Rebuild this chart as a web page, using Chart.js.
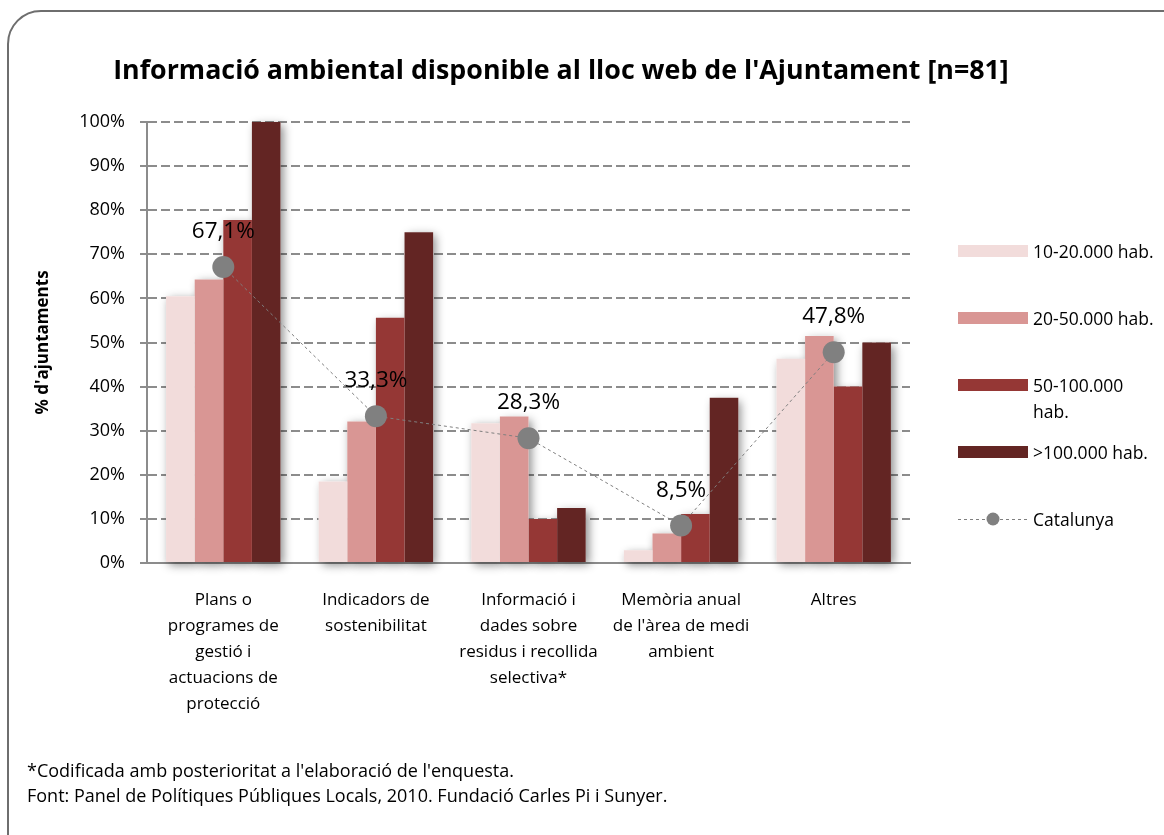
<!DOCTYPE html>
<html>
<head>
<meta charset="utf-8">
<script src="https://cdn.jsdelivr.net/npm/chart.js@4.4.0/dist/chart.umd.min.js"></script>
<style>
  html, body { margin:0; padding:0; background:#fff; width:1164px; height:835px; overflow:hidden; font-family: "Open Sans", Lato, sans-serif; }
  #frame { position:absolute; left:7px; top:10px; width:1250px; height:900px; border:2px solid #6e6e6e; border-radius:34px; box-sizing:border-box; }
  #c { position:absolute; left:0; top:0; }
  #title { position:absolute; left:0; width:1122px; top:50px; text-align:center; font-weight:bold; font-size:26.8px; color:#000; white-space:nowrap; }
  #legend { position:absolute; left:958px; top:0; }
  .li { position:absolute; left:0; display:flex; align-items:flex-start; }
  .sw { width:70px; height:12px; margin-top:7px; flex:none; }
  .lt { margin-left:5px; font-size:17.5px; line-height:26px; color:#000; width:127px; }
  #footer { position:absolute; left:27px; top:758px; font-size:18px; line-height:25px; color:#000; white-space:nowrap; }
</style>
</head>
<body>
<div id="frame"></div>
<canvas id="c" width="1164" height="835"></canvas>
<div id="title">Informació ambiental disponible al lloc web de l'Ajuntament [n=81]</div>
<div id="legend"></div>
<div id="footer">*Codificada amb posterioritat a l'elaboració de l'enquesta.<br>Font: Panel de Polítiques Públiques Locals, 2010. Fundació Carles Pi i Sunyer.</div>
<script>
// ---- data ----
const categories = [
  ["Plans o", "programes de", "gestió i", "actuacions de", "protecció"],
  ["Indicadors de", "sostenibilitat"],
  ["Informació i", "dades sobre", "residus i recollida", "selectiva*"],
  ["Memòria anual", "de l'àrea de medi", "ambient"],
  ["Altres"]
];
const seriesNames = ["10-20.000 hab.", "20-50.000 hab.", "50-100.000 hab.", ">100.000 hab.", "Catalunya"];
const s10_20  = [60.5, 18.5, 31.7, 2.9, 46.3];
const s20_50  = [64.3, 32.1, 33.2, 6.7, 51.5];
const s50_100 = [77.8, 55.6, 10.0, 11.1, 40.0];
const s100    = [100.0, 75.0, 12.5, 37.5, 50.0];
const catalunya = [67.1, 33.3, 28.3, 8.5, 47.8];
const yTicks = [0, 10, 20, 30, 40, 50, 60, 70, 80, 90, 100];

const colors = ["#F2DCDB", "#D99694", "#953735", "#632523"];
const lineColor = "#7f7f7f";
const FONT = "'Open Sans', Lato, sans-serif";

const shadowPlugin = {
  id: 'barShadow',
  beforeDatasetsDraw(chart) {
    const ctx = chart.ctx;
    ctx.save();
    ctx.shadowColor = 'rgba(0,0,0,0.45)';
    ctx.shadowBlur = 9;
    ctx.shadowOffsetX = 3;
    ctx.shadowOffsetY = 3;
    ctx.fillStyle = '#ffffff';
    chart.data.datasets.forEach((ds, i) => {
      if (ds.type === 'line') return;
      const meta = chart.getDatasetMeta(i);
      meta.data.forEach(el => {
        const w = el.width;
        ctx.fillRect(el.x - w / 2, el.y, w, el.base - el.y);
      });
    });
    ctx.restore();
  }
};

const labelPlugin = {
  id: 'pointLabels',
  afterDatasetsDraw(chart) {
    const ctx = chart.ctx;
    chart.data.datasets.forEach((ds, i) => {
      if (ds.type !== 'line') return;
      const meta = chart.getDatasetMeta(i);
      ctx.save();
      ctx.font = "22.5px " + FONT;
      ctx.fillStyle = '#000';
      ctx.textAlign = 'center';
      ctx.textBaseline = 'alphabetic';
      meta.data.forEach((el, j) => {
        const txt = ds.data[j].toFixed(1).replace('.', ',') + '%';
        ctx.fillText(txt, el.x, el.y - 29);
      });
      ctx.restore();
    });
  }
};

const barSeries = [s10_20, s20_50, s50_100, s100];
const datasets = barSeries.map((d, i) => ({
  type: 'bar',
  label: seriesNames[i],
  data: d,
  backgroundColor: colors[i],
  borderWidth: 0,
  categoryPercentage: 0.75,
  barPercentage: 1.0,
  order: 2
}));
datasets.push({
  type: 'line',
  label: seriesNames[4],
  data: catalunya,
  borderColor: lineColor,
  borderWidth: 1,
  borderDash: [3, 3],
  pointRadius: 11,
  pointHoverRadius: 11,
  pointBackgroundColor: '#808080',
  pointBorderWidth: 0,
  tension: 0,
  fill: false,
  order: 1
});

const chart = new Chart(document.getElementById('c'), {
  data: { labels: categories, datasets },
  options: {
    responsive: false,
    animation: false,
    devicePixelRatio: 1,
    layout: { padding: { left: 29, right: 254, top: 122, bottom: 112 } },
    plugins: { legend: { display: false }, tooltip: { enabled: false }, title: { display: false } },
    scales: {
      x: {
        grid: { display: false, drawTicks: false },
        border: { display: true, color: '#8c8c8c', width: 2 },
        ticks: { color: '#000', font: { family: FONT, size: 17, lineHeight: '26px' }, padding: 24, maxRotation: 0, autoSkip: false },
        afterFit(s) { s.height = 160; }
      },
      y: {
        min: 0, max: 100,
        afterBuildTicks(s) { s.ticks = yTicks.map(v => ({ value: v })); },
        grid: { color: '#8c8c8c', lineWidth: 2, drawTicks: true, tickLength: 7, tickColor: '#8c8c8c', tickWidth: 2 },
        border: { display: true, color: '#8c8c8c', width: 2, dash: [9, 4] },
        ticks: { color: '#000', font: { family: FONT, size: 18 }, padding: 15, callback: v => v + '%' },
        title: { display: true, text: "% d'ajuntaments", color: '#000', font: { family: FONT, size: 17, weight: 'bold' }, padding: { top: 4, bottom: 4 } },
        afterFit(s) { s.width = 118; }
      }
    }
  },
  plugins: [shadowPlugin, labelPlugin]
});

// ---- HTML legend built from datasets ----
const legend = document.getElementById('legend');
const legendRowY = [251, 318, 385, 452, 519];
chart.data.datasets.forEach((ds, i) => {
  const row = document.createElement('div');
  row.className = 'li';
  row.style.top = (legendRowY[i] - 13) + 'px';
  let sw;
  if (ds.type === 'line') {
    sw = document.createElement('canvas');
    sw.width = 70; sw.height = 26;
    sw.style.width = '70px'; sw.style.height = '26px'; sw.style.flex = 'none';
    const g = sw.getContext('2d');
    g.strokeStyle = lineColor; g.lineWidth = 1; g.setLineDash([3, 3]);
    g.beginPath(); g.moveTo(0, 13.5); g.lineTo(70, 13.5); g.stroke();
    g.fillStyle = '#808080'; g.beginPath(); g.arc(35, 13, 6.5, 0, Math.PI * 2); g.fill();
  } else {
    sw = document.createElement('div');
    sw.className = 'sw';
    sw.style.background = ds.backgroundColor;
  }
  const t = document.createElement('div');
  t.className = 'lt';
  t.textContent = ds.label;
  row.appendChild(sw); row.appendChild(t);
  legend.appendChild(row);
});
</script>
</body>
</html>
